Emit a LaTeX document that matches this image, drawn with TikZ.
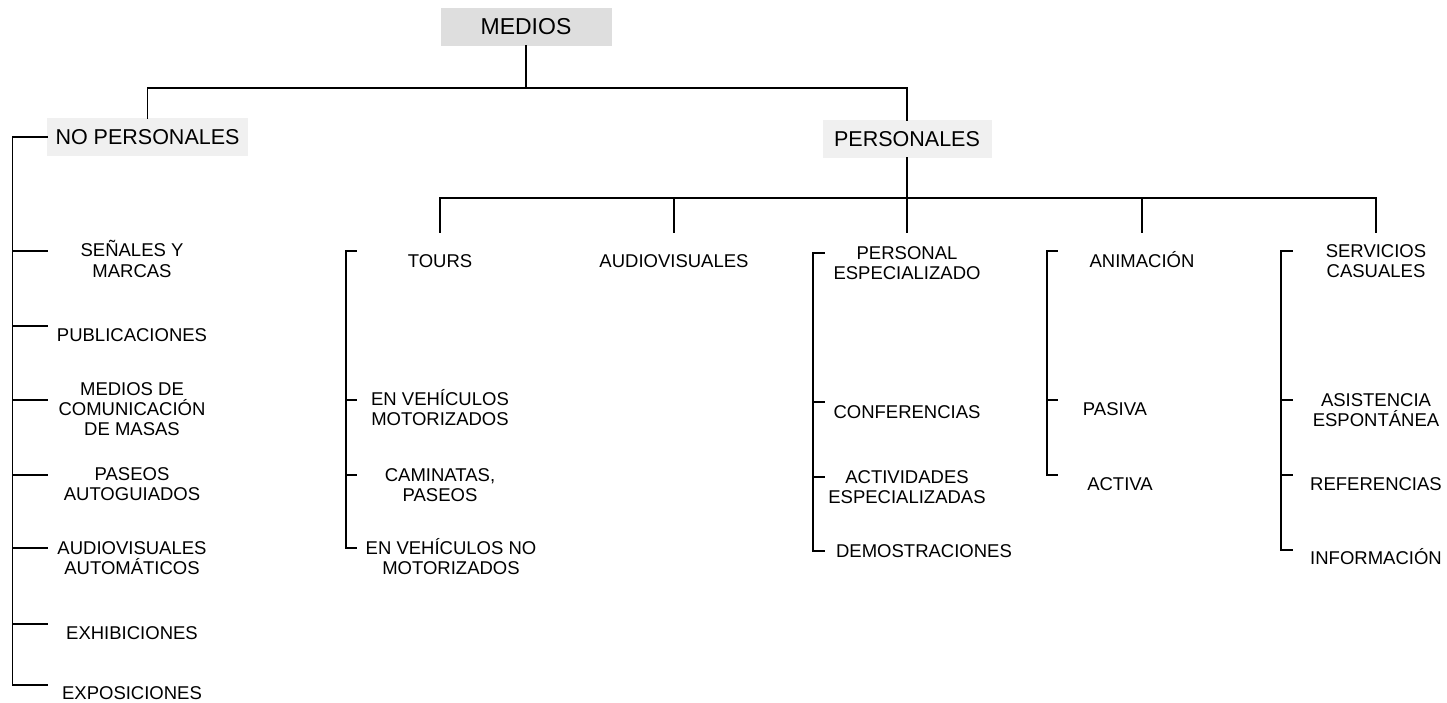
\documentclass[tikz,border=0pt]{standalone}
\usepackage{fontspec}
\setmainfont{Liberation Sans}
\begin{document}
\begin{tikzpicture}[x=1pt,y=-1pt,
  line/.style={line width=1.8pt,line cap=rect},
  head/.style={inner sep=0pt,minimum height=38pt,font=\fontsize{21.5}{24}\selectfont},
  leaf/.style={anchor=base,inner sep=0pt,font=\fontsize{18.5}{20}\selectfont}]
\definecolor{boxdark}{HTML}{DEDEDE}
\definecolor{boxlight}{HTML}{F0F0F0}
\useasboundingbox (0,0) rectangle (1447,703);

% top level boxes
\node[head,fill=boxdark,minimum width=171pt,font=\fontsize{23}{26}\selectfont] (medios) at (526,27) {MEDIOS};
\node[head,fill=boxlight,minimum width=201pt] (nop) at (147.5,137) {NO PERSONALES};
\node[head,fill=boxlight,minimum width=169pt] (per) at (907,139) {PERSONALES};

\draw[line] (medios.south) -- (526,88) coordinate (tbar);
\draw[line] (nop.north) -- (nop.north |- tbar) -- (per.north |- tbar) -- (per.north);

% column headings under PERSONALES
\node[leaf] (tours) at (440,267.5) {TOURS};
\node[leaf] (audio) at (674,267.5) {AUDIOVISUALES};
\node[leaf] (pers1) at (907,259.5) {PERSONAL};
\node[leaf] (pers2) at (907,279) {ESPECIALIZADO};
\node[leaf] (anim) at (1142,267.5) {ANIMACIÓN};
\node[leaf] (serv1) at (1376,257.5) {SERVICIOS};
\node[leaf] (serv2) at (1376,277) {CASUALES};

\draw[line] (per.south) -- (per.south |- 0,198) coordinate (pbar);
\draw[line] (440,198) -- (1376,198);
\foreach \x in {440,674,907,1142,1376}
  \draw[line] (\x,198) -- (\x,232);

% NO PERSONALES branch
\node[leaf] (sen1) at (132,257) {SEÑALES Y};
\node[leaf] (sen2) at (132,277) {MARCAS};
\node[leaf] (pub) at (132,341.5) {PUBLICACIONES};
\node[leaf] (com1) at (132,395.5) {MEDIOS DE};
\node[leaf] (com2) at (132,415.5) {COMUNICACIÓN};
\node[leaf] (com3) at (132,435.5) {DE MASAS};
\node[leaf] (pas1) at (132,480.5) {PASEOS};
\node[leaf] (pas2) at (132,500.5) {AUTOGUIADOS};
\node[leaf] (aud1) at (132,554.5) {AUDIOVISUALES};
\node[leaf] (aud2) at (132,574.5) {AUTOMÁTICOS};
\node[leaf] (exh) at (132,639.5) {EXHIBICIONES};
\node[leaf] (exp) at (132,699.5) {EXPOSICIONES};

\draw[line] (nop.west) -| (12.5,685) -- (47,685);
\foreach \y in {250.7,325.7,400,475,548,624}
  \draw[line] (12.5,\y) -- (47,\y);

% TOURS branch
\node[leaf] (veh1) at (440,405.5) {EN VEHÍCULOS};
\node[leaf] (veh2) at (440,425.5) {MOTORIZADOS};
\node[leaf] (cam1) at (440,481.5) {CAMINATAS,};
\node[leaf] (cam2) at (440,501) {PASEOS};
\node[leaf] (nom1) at (451,554.5) {EN VEHÍCULOS NO};
\node[leaf] (nom2) at (451,574.5) {MOTORIZADOS};
\draw[line] (356,251) -| (346,548) -- (356,548);
\foreach \y in {400,475} \draw[line] (346,\y) -- (356,\y);

% PERSONAL ESPECIALIZADO branch
\node[leaf] (conf) at (907,418.5) {CONFERENCIAS};
\node[leaf] (act1) at (907,483.5) {ACTIVIDADES};
\node[leaf] (act2) at (907,503.5) {ESPECIALIZADAS};
\node[leaf] (dem) at (924,557.5) {DEMOSTRACIONES};
\draw[line] (824,253) -| (813,551) -- (824,551);
\foreach \y in {402,477} \draw[line] (813,\y) -- (824,\y);

% ANIMACION branch
\node[leaf] (pasiva) at (1115,415.5) {PASIVA};
\node[leaf] (activa) at (1120,490.5) {ACTIVA};
\draw[line] (1057,251) -| (1047,475) -- (1057,475);
\draw[line] (1047,400) -- (1057,400);

% SERVICIOS CASUALES branch
\node[leaf] (asi1) at (1376,406.5) {ASISTENCIA};
\node[leaf] (asi2) at (1376,426.5) {ESPONTÁNEA};
\node[leaf] (ref) at (1376,490.5) {REFERENCIAS};
\node[leaf] (inf) at (1376,564.5) {INFORMACIÓN};
\draw[line] (1292,251) -| (1281,550) -- (1292,550);
\foreach \y in {400,475} \draw[line] (1281,\y) -- (1292,\y);
\end{tikzpicture}
\end{document}
